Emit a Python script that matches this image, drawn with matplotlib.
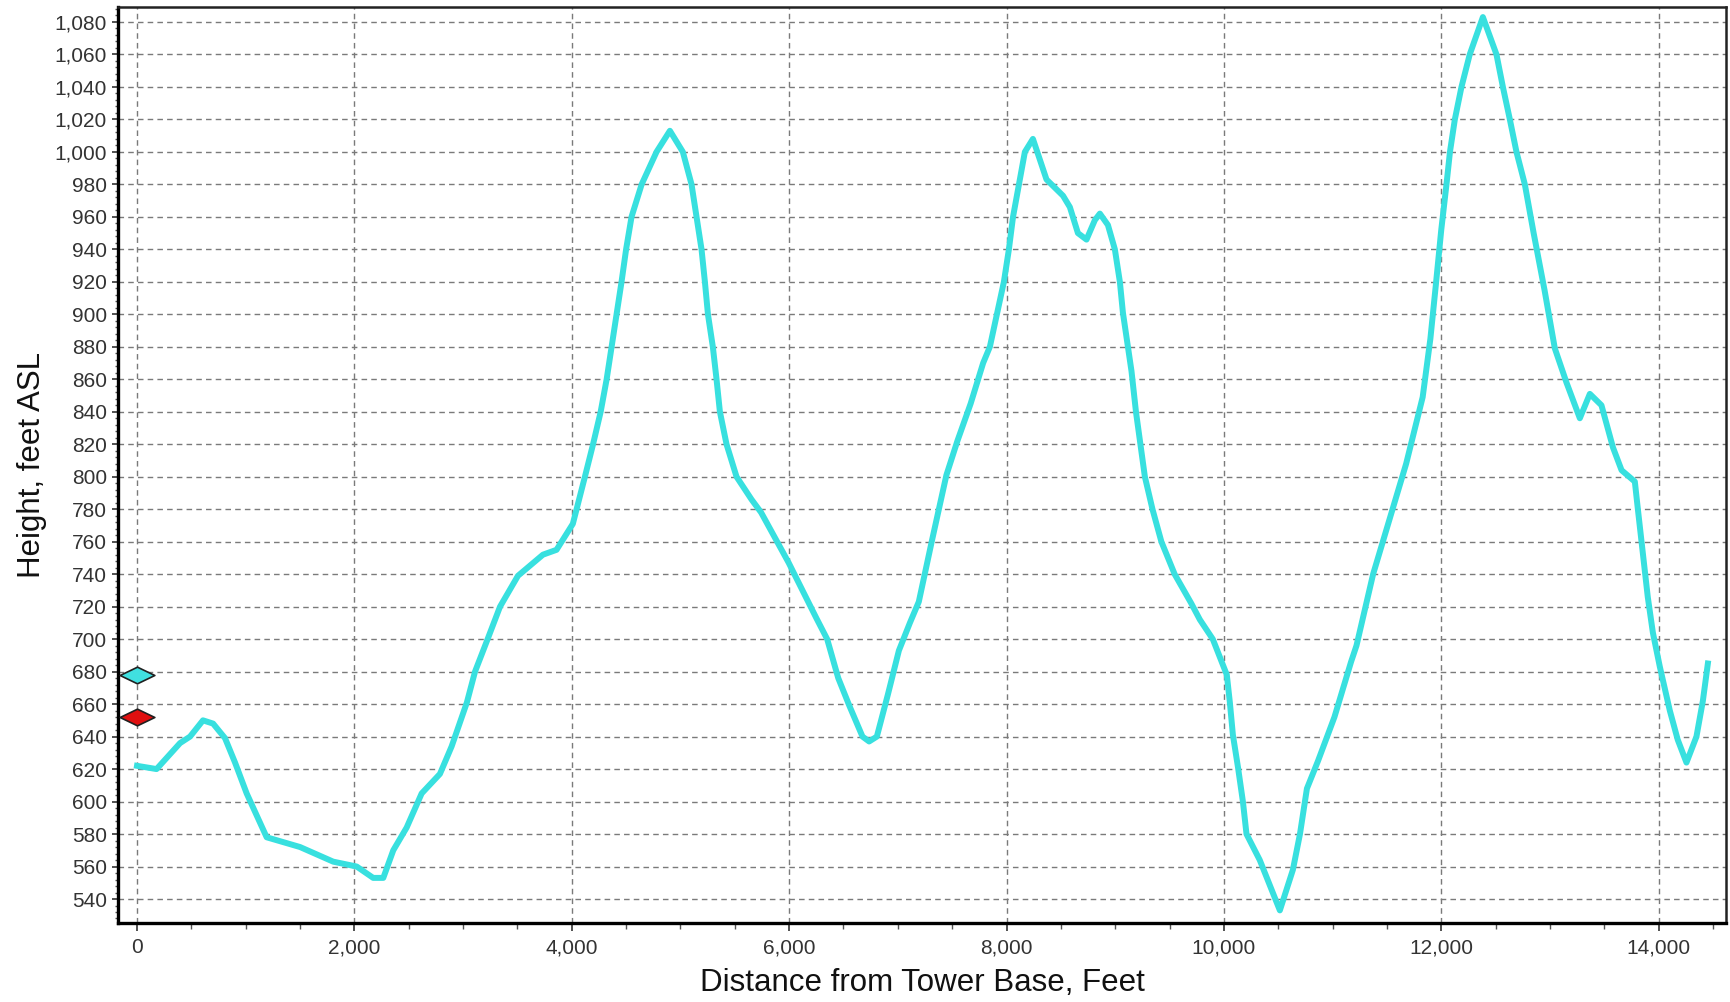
import numpy as np
import matplotlib.pyplot as plt
from matplotlib.path import Path
from matplotlib.ticker import MultipleLocator, FuncFormatter

plt.rcParams['font.family'] = ['Liberation Sans', 'DejaVu Sans']

# terrain profile
dist = [0, 180, 396, 488, 607, 700, 810, 902, 1009, 1193, 1500, 1805, 2021, 2173, 2266,
        2358, 2481, 2619, 2787, 2895, 3035, 3110, 3220, 3340, 3505, 3735, 3860, 4010,
        4121, 4196, 4266, 4321, 4367, 4413, 4458, 4500, 4550, 4643, 4780, 4903, 5022,
        5102, 5148, 5194, 5225, 5253, 5298, 5332, 5363, 5424, 5516, 5654, 5742, 5996,
        6250, 6350, 6452, 6554, 6675, 6736, 6807, 6909, 7010, 7111, 7193, 7315, 7447,
        7548, 7670, 7785, 7847, 7912, 7976, 8022, 8060, 8115, 8169, 8243, 8368, 8520,
        8583, 8657, 8736, 8813, 8859, 8933, 8997, 9043, 9071, 9117, 9150, 9191, 9273,
        9343, 9425, 9547, 9700, 9779, 9898, 10027, 10055, 10083, 10130, 10175, 10208,
        10330, 10515, 10635, 10700, 10764, 10866, 11017, 11170, 11220, 11373, 11525,
        11677, 11829, 11900, 11950, 12000, 12048, 12080, 12125, 12186, 12262, 12383,
        12508, 12567, 12631, 12692, 12769, 12850, 12950, 13045, 13152, 13275, 13367,
        13474, 13580, 13659, 13781, 13809, 13855, 13900, 13947, 14011, 14103, 14176,
        14256, 14348, 14407, 14453]
height = [622, 620, 636, 640, 650, 648, 639, 624, 605, 578, 572, 563, 560, 553, 553,
          570, 584, 605, 617, 634, 661, 680, 699, 720, 739, 752, 755, 771,
          800, 820, 840, 860, 880, 900, 920, 940, 960, 980, 1000, 1013, 1000,
          980, 960, 940, 920, 900, 880, 860, 840, 820, 800, 786, 778, 747,
          713, 700, 676, 659, 640, 637, 640, 666, 693, 710, 723, 761, 801,
          822, 845, 870, 880, 900, 920, 940, 960, 980, 1000, 1008, 983, 973,
          966, 950, 946, 958, 962, 955, 940, 920, 901, 880, 865, 840, 800,
          780, 760, 740, 722, 712, 700, 678, 661, 641, 621, 600, 580,
          564, 533, 558, 580, 608, 625, 652, 686, 696, 740, 774,
          808, 849, 885, 918, 952, 980, 1000, 1020, 1040, 1060, 1083,
          1060, 1040, 1020, 1000, 980, 950, 915, 879, 858, 836, 851,
          844, 818, 804, 797, 780, 753, 726, 704, 683, 656, 638,
          624, 640, 662, 685]

# the two diamonds at the tower base
mark_x = [0, 0]
mark_y = [678, 652]
mark_col = ['#40E0E0', '#E01010']

diamond = Path([(-1, 0), (0, 0.48), (1, 0), (0, -0.48), (-1, 0)],
               [Path.MOVETO, Path.LINETO, Path.LINETO, Path.LINETO, Path.CLOSEPOLY])

fig = plt.figure(figsize=(17.3, 10.02), dpi=100)
ax = fig.add_axes([0.0682, 0.0788, 0.9295, 0.9142])

ax.plot(dist, height, color='#38E0DF', lw=4.3, solid_joinstyle='round', zorder=3)
for x, y, c in zip(mark_x, mark_y, mark_col):
    ax.plot(x, y, marker=diamond, ms=25, mfc=c, mec='#202020', mew=1.2,
            clip_on=False, zorder=4)

ax.set_xlim(-175, 14620)
ax.set_ylim(525.2, 1089.2)
ax.xaxis.set_major_locator(MultipleLocator(2000))
ax.xaxis.set_minor_locator(MultipleLocator(500))
ax.yaxis.set_major_locator(MultipleLocator(20))
ax.yaxis.set_minor_locator(MultipleLocator(4))
fmt = FuncFormatter(lambda v, p: "{:,.0f}".format(v))
ax.xaxis.set_major_formatter(fmt)
ax.yaxis.set_major_formatter(fmt)

ax.grid(True, which='major', color='#7a7a7a', lw=1.0, linestyle=(0, (4, 3)))
ax.tick_params(which='major', direction='out', length=5, width=1.2, color='#333333',
               labelsize=15, labelcolor='#333333')
ax.tick_params(axis='y', which='major', length=4.5, pad=3.5)
ax.tick_params(axis='x', which='major', length=6, pad=5)
ax.tick_params(which='minor', direction='out', length=4, width=1.0, color='#555555')
ax.tick_params(axis='y', which='minor', length=2)

for s in ['left', 'bottom']:
    ax.spines[s].set_linewidth(2.4)
    ax.spines[s].set_color('black')
for s in ['top', 'right']:
    ax.spines[s].set_linewidth(1.8)
    ax.spines[s].set_color('#222222')

ax.set_xlabel("Distance from Tower Base, Feet", fontsize=22.5, color='#111111', labelpad=8)
ax.set_ylabel("Height, feet ASL", fontsize=22.5, color='#111111', labelpad=5)

plt.savefig("out.png", dpi=100, facecolor='white')
